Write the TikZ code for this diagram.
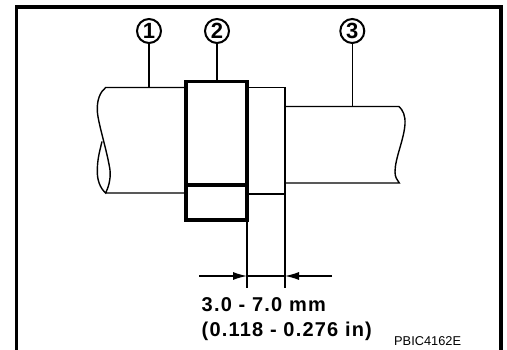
\documentclass[tikz,border=0pt]{standalone}
\usepackage{fontspec}
\setmainfont{Liberation Sans}
\newfontfamily\dimfont[LetterSpace=6]{Liberation Sans}
\usetikzlibrary{arrows.meta}
\tikzset{
  thinline/.style={line width=1.4pt},
  thickline/.style={line width=3.3pt},
  callout/.style={draw, circle, line width=2pt, minimum size=24pt, inner sep=0pt, font=\fontsize{22}{22}\selectfont\bfseries},
  dimarrow/.style={line width=1.2pt, -{Latex[length=14pt,width=8pt]}},
  dimtext/.style={anchor=base west, inner sep=0pt, font=\fontsize{20}{20}\selectfont\dimfont\bfseries}
}
\begin{document}
\begin{tikzpicture}[x=1pt, y=-1pt]
  \useasboundingbox (0,0) rectangle (507,350);
  \fill[white] (0,0) rectangle (507,350);

  % frame, open at the bottom
  \draw[line width=3.3pt, miter limit=10] (16.5,350) -- (16.5,7) -- (501,7) -- (501,350);

  % left shaft
  \draw[thinline] (186,87.5) -- (105.7,87.5)
    .. controls (100,92) and (97,100) .. (97.3,110)
    .. controls (97.5,122) and (107,150) .. (110,170)
    .. controls (111,180) and (108,188) .. (105.7,193)
    .. controls (100,188) and (97,180) .. (97.3,170)
    .. controls (97.5,158) and (100,150) .. (102,141.5)
    (105.7,193) -- (186,193);

  % collar
  \draw[thinline] (247,87.5) -- (285,87.5) -- (285,288);
  \draw[thinline] (247,194) -- (285,194);
  \draw[thinline] (247,220) -- (247,288);

  % right shaft
  \draw[thinline] (285,106.5) -- (399,106.5)
    .. controls (403,110) and (405.5,116) .. (405,124)
    .. controls (404,140) and (395,158) .. (395,172)
    .. controls (395,177) and (397,180) .. (399.3,183) -- (285,183);

  % block
  \draw[thickline] (186,81.5) rectangle (247,220);
  \draw[thickline] (186,185) -- (247,185);

  % callouts
  \node[callout] (one) at (149,31) {1};
  \node[callout] (two) at (217,31) {2};
  \node[callout] (three) at (352.3,31) {3};
  \coordinate (oneend) at (149,87.5);
  \coordinate (twoend) at (217,81.5);
  \coordinate (threeend) at (352.3,106.5);
  \draw[thinline] (one) -- (oneend);
  \draw[thinline] (two) -- (twoend);
  \draw[thinline] (three) -- (threeend);

  % dimension
  \coordinate (leftfree) at (199,276);
  \coordinate (leftmark) at (247,276);
  \coordinate (rightfree) at (332,276);
  \coordinate (rightmark) at (285,276);
  \draw[dimarrow] (leftfree) -- (leftmark);
  \draw[dimarrow] (rightfree) -- (rightmark);
  \draw[thinline] (leftmark) -- (rightmark);

  \node[dimtext] (mm) at (201.5,311.5) {3.0 - 7.0 mm};
  \node[dimtext] (inch) at (201.5,336.5) {(0.118 - 0.276 in)};
  \node[anchor=base west, inner sep=0pt, font=\fontsize{12.8}{12.8}\selectfont] (code) at (394,346) {PBIC4162E};
\end{tikzpicture}
\end{document}
